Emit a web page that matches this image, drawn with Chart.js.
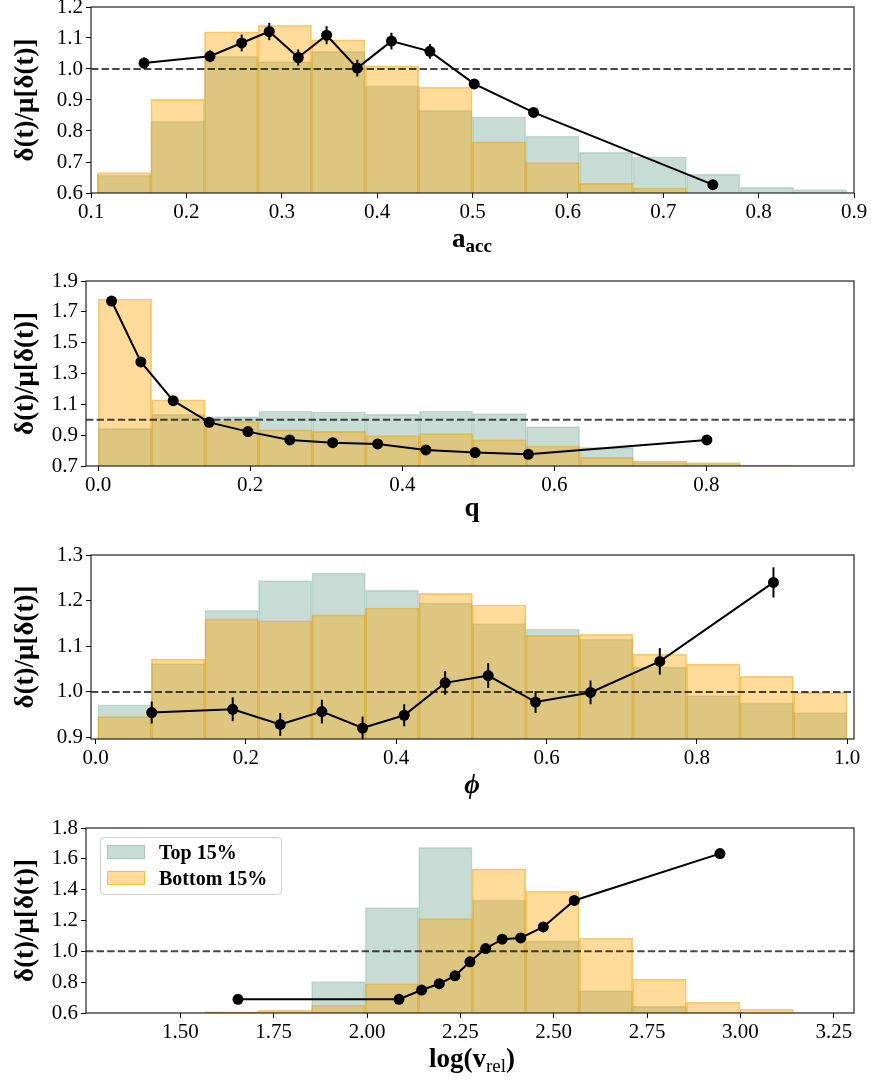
<!DOCTYPE html>
<html>
<head>
<meta charset="utf-8">
<script src="https://cdn.jsdelivr.net/npm/chart.js@4.4.0/dist/chart.umd.min.js"></script>
<style>
body { margin: 0; background: #fff; }
#page { position: relative; width: 871px; height: 1082px; overflow: hidden; font-family: 'Liberation Serif', serif; color: #000; }
canvas { position: absolute; left: 0; }
.xt { position: absolute; left: 372px; width: 200px; text-align: center; font-weight: bold; font-size: 27px; line-height: 1; }
.xt sub { font-size: 19px; vertical-align: -5px; }
#legend { position: absolute; left: 100px; top: 837px; width: 180px; height: 56px; border: 1px solid #d0d0d0; border-radius: 4px; background: rgba(255,255,255,0.8); }
.lg { position: absolute; left: 6px; height: 14px; width: 38px; box-sizing: border-box; }
.lt { position: absolute; left: 58px; font-weight: bold; font-size: 20px; line-height: 20px; }
</style>
</head>
<body>
<div id="page">
  <canvas id="c1" width="871" height="246" style="top:-13px"></canvas>
  <canvas id="c2" width="871" height="245" style="top:261px"></canvas>
  <canvas id="c3" width="871" height="244" style="top:535px"></canvas>
  <canvas id="c4" width="871" height="245" style="top:808px"></canvas>
  <div class="xt" style="top:225px">a<sub>acc</sub></div>
  <div class="xt" style="top:494px">q</div>
  <div class="xt" style="top:771px"><i>ϕ</i></div>
  <div class="xt" style="top:1045px">log(v<sub style="font-weight:normal">rel</sub>)</div>
  <div id="legend">
    <div class="lg" id="lgTop" style="top:7px"></div>
    <div class="lt" style="top:4px">Top 15%</div>
    <div class="lg" id="lgBot" style="top:33px"></div>
    <div class="lt" style="top:30px">Bottom 15%</div>
  </div>
</div>
<script>
// 色
var TEAL_FILL = 'rgba(70,140,115,0.3)';
var TEAL_EDGE = 'rgba(70,140,115,0.25)';
var ORANGE_FILL = 'rgba(255,165,0,0.4)';
var ORANGE_EDGE = 'rgba(235,160,0,0.5)';

// パネル1: a_acc
var centers1 = [0.1347, 0.1908, 0.2470, 0.3032, 0.3593, 0.4155, 0.4716, 0.5278, 0.5839, 0.6401, 0.6963, 0.7524, 0.8086, 0.8647];
var top1 = [0.658, 0.832, 1.041, 1.024, 1.057, 0.946, 0.867, 0.846, 0.784, 0.732, 0.717, 0.661, 0.619, 0.611];
var bottom1 = [0.666, 0.902, 1.120, 1.141, 1.094, 1.010, 0.941, 0.765, 0.698, 0.631, 0.616, null, null, null];
var lineX1 = [0.1556, 0.2247, 0.258, 0.2869, 0.3173, 0.347, 0.3792, 0.415, 0.4553, 0.5018, 0.564, 0.752];
var lineY1 = [1.019, 1.041, 1.084, 1.121, 1.037, 1.109, 1.003, 1.090, 1.057, 0.952, 0.860, 0.627];
var err1 = [0.018, 0.019, 0.027, 0.028, 0.026, 0.029, 0.027, 0.027, 0.024, 0.012, 0.010, 0.006];
var xTicks1 = ['0.1', '0.2', '0.3', '0.4', '0.5', '0.6', '0.7', '0.8', '0.9'];
var yTicks1 = ['0.6', '0.7', '0.8', '0.9', '1.0', '1.1', '1.2'];

// パネル2: q
var centers2 = [0.0352, 0.1056, 0.1760, 0.2464, 0.3168, 0.3872, 0.4576, 0.5279, 0.5983, 0.6687, 0.7391, 0.8095, 0.8799, 0.9503];
var top2 = [0.944, 1.037, 1.020, 1.057, 1.052, 1.037, 1.057, 1.040, 0.955, 0.821, 0.725, 0.712, 0.700, 0.703];
var bottom2 = [1.783, 1.130, 0.988, 0.934, 0.925, 0.897, 0.910, 0.869, 0.830, 0.756, 0.734, 0.722, 0.705, 0.690];
var lineX2 = [0.0176, 0.0562, 0.0987, 0.146, 0.197, 0.252, 0.3084, 0.3676, 0.431, 0.4957, 0.5658, 0.8005];
var lineY2 = [1.770, 1.375, 1.124, 0.983, 0.923, 0.869, 0.851, 0.843, 0.804, 0.787, 0.776, 0.869];
var err2 = [0.02, 0.012, 0.01, 0.008, 0.008, 0.008, 0.008, 0.008, 0.008, 0.008, 0.008, 0.01];
var xTicks2 = ['0.0', '0.2', '0.4', '0.6', '0.8'];
var yTicks2 = ['0.7', '0.9', '1.1', '1.3', '1.5', '1.7', '1.9'];

// パネル3: phi
var centers3 = [0.0383, 0.1096, 0.1808, 0.2521, 0.3233, 0.3945, 0.4658, 0.5370, 0.6083, 0.6795, 0.7508, 0.8220, 0.8932, 0.9644];
var top3 = [0.972, 1.062, 1.179, 1.244, 1.261, 1.223, 1.195, 1.150, 1.138, 1.116, 1.055, 0.992, 0.976, 0.955];
var bottom3 = [0.946, 1.072, 1.160, 1.156, 1.169, 1.184, 1.216, 1.191, 1.124, 1.126, 1.083, 1.061, 1.034, 0.999];
var lineX3 = [0.0745, 0.1823, 0.2456, 0.301, 0.3552, 0.4106, 0.4651, 0.5224, 0.5854, 0.6586, 0.7508, 0.9021];
var lineY3 = [0.955, 0.962, 0.929, 0.957, 0.921, 0.949, 1.020, 1.036, 0.978, 0.999, 1.067, 1.240];
var err3 = [0.024, 0.026, 0.025, 0.026, 0.025, 0.024, 0.026, 0.027, 0.024, 0.026, 0.029, 0.033];
var xTicks3 = ['0.0', '0.2', '0.4', '0.6', '0.8', '1.0'];
var yTicks3 = ['0.9', '1.0', '1.1', '1.2', '1.3'];

// パネル4: log(v_rel)
var centers4 = [1.3497, 1.4931, 1.6364, 1.7798, 1.9231, 2.0665, 2.2099, 2.3532, 2.4966, 2.6399, 2.7833, 2.9267, 3.0700, 3.2134];
var top4 = [null, null, null, null, 0.803, 1.283, 1.675, 1.333, 1.068, 0.745, 0.645, 0.605, null, null];
var bottom4 = [null, null, 0.609, 0.617, 0.652, 0.790, 1.212, 1.535, 1.391, 1.085, 0.820, 0.671, 0.626, null];
var lineX4 = [1.6545, 2.0855, 2.1463, 2.1935, 2.2355, 2.2756, 2.3177, 2.362, 2.4114, 2.472, 2.555, 2.945];
var lineY4 = [0.689, 0.689, 0.749, 0.790, 0.841, 0.932, 1.018, 1.079, 1.087, 1.158, 1.330, 1.634];
var err4 = [0.006, 0.006, 0.006, 0.006, 0.006, 0.006, 0.006, 0.006, 0.006, 0.006, 0.008, 0.012];
var xTicks4 = ['1.50', '1.75', '2.00', '2.25', '2.50', '2.75', '3.00', '3.25'];
var yTicks4 = ['0.6', '0.8', '1.0', '1.2', '1.4', '1.6', '1.8'];

var FONT = "'Liberation Serif', serif";

// 誤差棒を描くプラグイン
var errorBarPlugin = {
    id: 'errorBars',
    afterDatasetsDraw: function(chart) {
        var ctx = chart.ctx;
        var ys = chart.scales.y;
        chart.data.datasets.forEach(function(ds, i) {
            if (!ds.errors) return;
            var meta = chart.getDatasetMeta(i);
            ctx.save();
            ctx.strokeStyle = '#000';
            ctx.lineWidth = 2;
            meta.data.forEach(function(pt, j) {
                var v = ds.data[j].y, e = ds.errors[j];
                ctx.beginPath();
                ctx.moveTo(pt.x, ys.getPixelForValue(v - e));
                ctx.lineTo(pt.x, ys.getPixelForValue(v + e));
                ctx.stroke();
            });
            ctx.restore();
        });
    }
};

// 枠線
var framePlugin = {
    id: 'frame',
    afterDraw: function(chart) {
        var a = chart.chartArea, ctx = chart.ctx;
        ctx.save();
        ctx.strokeStyle = '#222';
        ctx.lineWidth = 1.2;
        ctx.strokeRect(a.left, a.top, a.right - a.left, a.bottom - a.top);
        ctx.restore();
    }
};

function makePanel(id, p) {
    var toXY = function(xs, ys) {
        return xs.map(function(x, i) { return { x: x, y: ys[i] }; });
    };
    var datasets = [
        { type: 'bar', label: 'Top 15%', data: toXY(p.centers, p.top),
          backgroundColor: TEAL_FILL, borderColor: TEAL_EDGE, borderWidth: 1,
          grouped: false, categoryPercentage: 1, barPercentage: 1, order: 4 },
        { type: 'bar', label: 'Bottom 15%', data: toXY(p.centers, p.bottom),
          backgroundColor: ORANGE_FILL, borderColor: ORANGE_EDGE, borderWidth: 1,
          grouped: false, categoryPercentage: 1, barPercentage: 1, order: 3 },
        { type: 'line', label: 'unity', data: toXY(p.xRange, [1, 1]),
          borderColor: 'rgba(0,0,0,0.72)', borderWidth: 2, borderDash: [7.4, 3.2],
          pointRadius: 0, order: 2 },
        { type: 'line', label: 'ratio', data: toXY(p.lineX, p.lineY), errors: p.err,
          borderColor: '#000', backgroundColor: '#000', borderWidth: 2,
          pointRadius: 5.5, pointBorderWidth: 0, order: 1 }
    ];
    new Chart(document.getElementById(id), {
        type: 'bar',
        data: { datasets: datasets },
        options: {
            responsive: false,
            animation: false,
            devicePixelRatio: 1,
            layout: { padding: { top: 20, right: 871 - p.right, bottom: 0, left: 0 } },
            plugins: { legend: { display: false }, tooltip: { enabled: false } },
            scales: {
                x: {
                    type: 'linear', min: p.xRange[0], max: p.xRange[1], offset: false,
                    afterFit: function(s) { s.height = 40; },
                    afterBuildTicks: function(s) {
                        s.ticks = p.xTicks.map(function(t) { return { value: parseFloat(t) }; });
                    },
                    ticks: {
                        callback: function(v, i) { return p.xTicks[i]; },
                        font: { family: FONT, size: 21 }, color: '#000', padding: 2,
                        maxRotation: 0, autoSkip: false
                    },
                    grid: { drawOnChartArea: false, offset: false, tickLength: 5, color: '#000' },
                    border: { display: false }
                },
                y: {
                    type: 'linear', min: p.yRange[0], max: p.yRange[1],
                    afterFit: function(s) { s.width = p.left; },
                    afterBuildTicks: function(s) {
                        s.ticks = p.yTicks.map(function(t) { return { value: parseFloat(t) }; });
                    },
                    ticks: {
                        callback: function(v, i) { return p.yTicks[i]; },
                        font: { family: FONT, size: 21 }, color: '#000', padding: 3
                    },
                    grid: { drawOnChartArea: false, tickLength: 5, color: '#000' },
                    border: { display: false },
                    title: {
                        display: true, text: 'δ(t)/μ[δ(t)]', color: '#000',
                        font: { family: FONT, size: 27, weight: 'bold' },
                        padding: { top: 10, bottom: 0 }
                    }
                }
            }
        },
        plugins: [errorBarPlugin, framePlugin]
    });
}

makePanel('c1', { centers: centers1, top: top1, bottom: bottom1, lineX: lineX1, lineY: lineY1, err: err1,
    xTicks: xTicks1, yTicks: yTicks1, xRange: [0.1, 0.9], yRange: [0.6, 1.2], left: 91, right: 854 });
makePanel('c2', { centers: centers2, top: top2, bottom: bottom2, lineX: lineX2, lineY: lineY2, err: err2,
    xTicks: xTicks2, yTicks: yTicks2, xRange: [-0.016, 0.994], yRange: [0.7, 1.9], left: 86, right: 854 });
makePanel('c3', { centers: centers3, top: top3, bottom: bottom3, lineX: lineX3, lineY: lineY3, err: err3,
    xTicks: xTicks3, yTicks: yTicks3, xRange: [-0.0063, 1.0093], yRange: [0.897, 1.3], left: 91, right: 854 });
makePanel('c4', { centers: centers4, top: top4, bottom: bottom4, lineX: lineX4, lineY: lineY4, err: err4,
    xTicks: xTicks4, yTicks: yTicks4, xRange: [1.2475, 3.304], yRange: [0.6, 1.8], left: 86, right: 854 });

// 凡例の色
var lgTop = document.getElementById('lgTop');
lgTop.style.background = TEAL_FILL;
lgTop.style.border = '1px solid ' + TEAL_EDGE;
var lgBot = document.getElementById('lgBot');
lgBot.style.background = ORANGE_FILL;
lgBot.style.border = '1px solid ' + ORANGE_EDGE;
</script>
</body>
</html>
